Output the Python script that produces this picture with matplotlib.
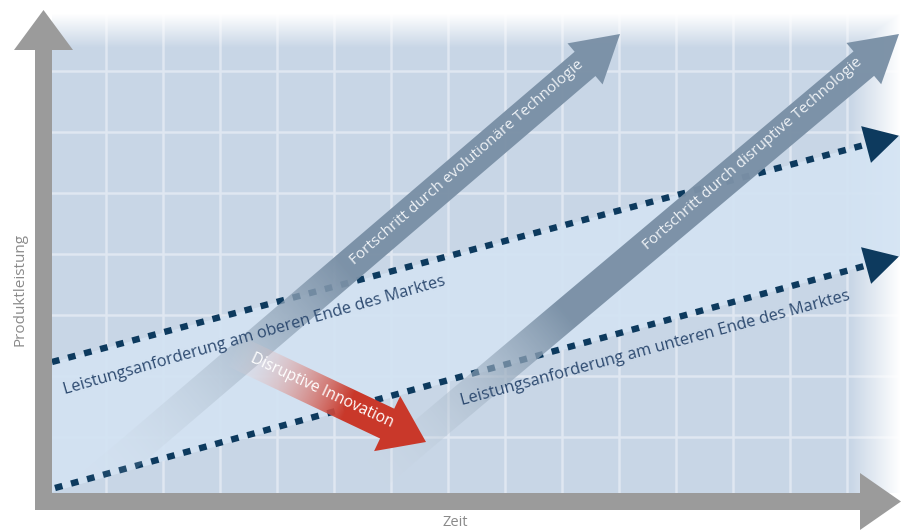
import numpy as np
import matplotlib
matplotlib.use("Agg")
import matplotlib.pyplot as plt
from matplotlib.patches import Polygon
from matplotlib.colors import to_rgb

W, H = 904, 531

# grid of the diagram (pixel positions)
grid_x = [106, 163, 220, 277, 334, 391, 448, 505, 562, 619, 676, 733, 790, 847]
grid_y = [71, 132, 193, 254, 315, 376, 437]

# market demand lines: start, end of dotted part
upper_line = [(52, 362), (868, 144)]
lower_line = [(55, 488), (868, 265)]

# technology progress arrows: start, tip
evo_arrow = [(75, 500), (620, 34)]
dis_arrow = [(345, 500), (899, 34)]
innov_arrow = [(232, 350), (426, 442)]

labels = {
    "upper": "Leistungsanforderung am oberen Ende des Marktes",
    "lower": "Leistungsanforderung am unteren Ende des Marktes",
    "evo": "Fortschritt durch evolutionäre Technologie",
    "dis": "Fortschritt durch disruptive Technologie",
    "innov": "Disruptive Innovation",
}

FONT = ["Open Sans", "DejaVu Sans"]
bg = to_rgb("#c8d6e6")
band = "#d3e3f3"
navy = "#0d3a5e"
steel = to_rgb("#7a90a6")
red = to_rgb("#c9392b")
axis_gray = "#9b9b9b"

fig = plt.figure(figsize=(W / 100, H / 100), dpi=100)
ax = fig.add_axes([0, 0, 1, 1])
ax.set_xlim(0, W)
ax.set_ylim(H, 0)
ax.axis("off")


def unit(p0, p1):
    d = np.array(p1, float) - np.array(p0, float)
    L = np.hypot(*d)
    return d / L, L


def arrow_poly(p0, p1, width, head_w, head_l):
    u, L = unit(p0, p1)
    n = np.array([-u[1], u[0]])
    p0 = np.array(p0, float)
    p1 = np.array(p1, float)
    b = p1 - u * head_l
    return [p0 + n * width / 2, b + n * width / 2, b + n * head_w / 2, p1,
            b - n * head_w / 2, b - n * width / 2, p0 - n * width / 2]


def grad_fill(pts, p0, p1, color, f0, f1, amax, z, start_col=None):
    poly = Polygon(pts, closed=True, fc="none", ec="none")
    ax.add_patch(poly)
    pts = np.array(pts)
    x0, y0 = np.floor(pts.min(axis=0)) - 2
    x1, y1 = np.ceil(pts.max(axis=0)) + 2
    X, Y = np.meshgrid(np.arange(x0, x1) + 0.5, np.arange(y0, y1) + 0.5)
    u, L = unit(p0, p1)
    t = ((X - p0[0]) * u[0] + (Y - p0[1]) * u[1]) / L
    s = np.clip((t - f0) / (f1 - f0), 0, 1)
    img = np.zeros(X.shape + (4,))
    c1 = np.array(color)
    c0 = np.array(start_col) if start_col is not None else c1
    for k in range(3):
        img[..., k] = c0[k] + (c1[k] - c0[k]) * s
    img[..., 3] = s * amax
    im = ax.imshow(img, extent=(x0, x1, y1, y0), origin="upper",
                   interpolation="bilinear", zorder=z)
    im.set_clip_path(poly)


# plot area background and grid
ax.add_patch(plt.Rectangle((52, 10), 850, 483, fc=bg, ec="none", zorder=1))
for gx in grid_x:
    ax.plot([gx, gx], [10, 493], color="#dfe7f1", lw=1.8, zorder=2)
for gy in grid_y:
    ax.plot([52, 902], [gy, gy], color="#dfe7f1", lw=1.8, zorder=2)

# white fade towards top and right
X, Y = np.meshgrid(np.arange(52, 904) + 0.5, np.arange(0, 494) + 0.5)
ft = np.clip((Y - 14) / 34, 0, 1)
fr = np.clip((900 - X) / 50, 0, 1)
fade = np.zeros(X.shape + (4,))
fade[..., :3] = 1
fade[..., 3] = 1 - np.minimum(ft, fr)
ax.imshow(fade, extent=(52, 904, 494, 0), origin="upper", zorder=3)

# lighter band between demand lines
u_up, _ = unit(*upper_line)
u_lo, _ = unit(*lower_line)
band_pts = [(52, upper_line[0][1] + 0.5),
            (900, upper_line[1][1] + u_up[1] / u_up[0] * 32),
            (900, lower_line[1][1] + u_lo[1] / u_lo[0] * 32),
            (52, lower_line[0][1] + 4)]
ax.add_patch(Polygon(band_pts, closed=True, fc=band, ec="none", alpha=0.92, zorder=4))

# dotted demand lines with heads
for line in (upper_line, lower_line):
    (xa, ya), (xb, yb) = line
    ax.plot([xa, xb], [ya, yb], color=navy, lw=4.6, linestyle=(0, (1.2, 1.4)),
            dash_capstyle="butt", zorder=5)
    u, _ = unit(*line)
    tip = np.array([xb, yb]) + u * 32
    ax.add_patch(Polygon(arrow_poly(line[0], tip, 0, 38, 34)[2:5], closed=True,
                         fc=navy, ec="none", zorder=5))

# gray technology arrows
grad_fill(arrow_poly(*evo_arrow, 32, 54, 46), *evo_arrow, steel, 0.02, 0.5, 0.97, 6,
          start_col=(0.85, 0.89, 0.93))
grad_fill(arrow_poly(*dis_arrow, 32, 54, 46), *dis_arrow, steel, 0.02, 0.4, 0.97, 6,
          start_col=(0.85, 0.89, 0.93))

# red innovation arrow
grad_fill(arrow_poly(*innov_arrow, 33, 61, 43), *innov_arrow, red, 0.0, 0.6, 1.0, 7,
          start_col=(0.97, 0.93, 0.93))

# axes
ax.add_patch(plt.Rectangle((35, 48), 17, 462, fc=axis_gray, ec="none", zorder=8))
ax.add_patch(Polygon([(14, 50), (43.5, 10), (73, 50)], closed=True, fc=axis_gray, ec="none", zorder=8))
ax.add_patch(Polygon([(35, 493), (862, 493), (862, 510), (35, 510)], closed=True,
                     fc=axis_gray, ec="none", zorder=8))
ax.add_patch(Polygon([(860, 473), (901, 501.5), (860, 530)], closed=True, fc=axis_gray, ec="none", zorder=8))

# texts
txt = dict(family=FONT, rotation_mode="anchor", ha="center", va="center", zorder=10)
ax.text(254, 336, labels["upper"], color="#2d4a70", fontsize=11.8, rotation=16, **txt)
ax.text(655, 348, labels["lower"], color="#2d4a70", fontsize=11.8, rotation=15.2, **txt)
ax.text(467, 163, labels["evo"], color="#eef2f6", fontsize=11, rotation=41, **txt)
ax.text(753, 154, labels["dis"], color="#eef2f6", fontsize=11, rotation=41, **txt)
ax.text(322, 391, labels["innov"], color="white", fontsize=11.2, rotation=-25, **txt)
ax.text(20, 289, "Produktleistung", color="#8a8a8a", fontsize=11, rotation=90, **txt)
ax.text(455, 523, "Zeit", color="#8a8a8a", fontsize=10.5, **txt)

ax.set_xlim(0, W)
ax.set_ylim(H, 0)
fig.savefig("out.png", dpi=100)
